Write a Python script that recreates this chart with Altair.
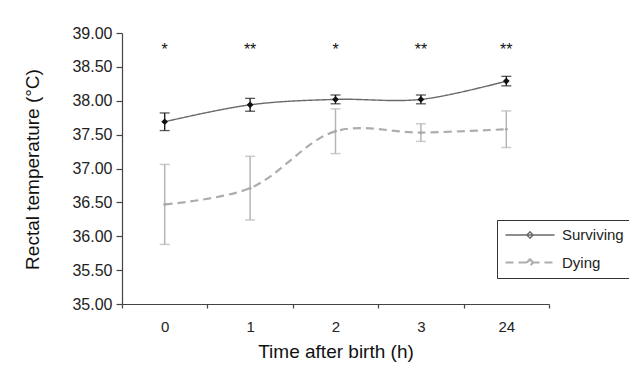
import altair as alt
import pandas as pd

times = ["0", "1", "2", "3", "24"]
surviving_mean = [37.69, 37.94, 38.02, 38.02, 38.29]
surviving_err = [0.13, 0.095, 0.065, 0.065, 0.07]
dying_mean = [36.47, 36.71, 37.55, 37.53, 37.58]
dying_err = [0.59, 0.47, 0.33, 0.13, 0.27]
significance = ["*", "**", "*", "**", "**"]
y_ticks = [35.0, 35.5, 36.0, 36.5, 37.0, 37.5, 38.0, 38.5, 39.0]
groups = ["Surviving", "Dying"]

rows = []
for g, means, errs in [("Surviving", surviving_mean, surviving_err),
                       ("Dying", dying_mean, dying_err)]:
    for t, m, e in zip(times, means, errs):
        rows.append({"time": t, "group": g, "mean": m, "lo": m - e, "hi": m + e})
df = pd.DataFrame(rows)
sig_df = pd.DataFrame({"time": times, "sig": significance})

FONT = "Liberation Sans"

x_enc = alt.X(
    "time:O", sort=times,
    scale=alt.Scale(type="band", paddingInner=0, paddingOuter=0),
    axis=alt.Axis(title="Time after birth (h)", labelAngle=0, tickBand="extent",
                  tickSize=4, labelPadding=11, labelFontSize=15,
                  titleFontSize=19, titleBaseline="alphabetic", titleY=53),
)

y_scale = alt.Scale(domain=[35, 39], nice=False, zero=False)
y_axis = alt.Axis(values=y_ticks, format=".2f", title="Rectal temperature (°C)",
                  grid=False, tickSize=6, labelPadding=4, labelFontSize=16,
                  labelOverlap=False,
                  titleFontSize=19, titleBaseline="alphabetic",
                  titleX=-84, titleY=136)


def yenc(field):
    return alt.Y(field, scale=y_scale, axis=y_axis)


# legend symbol: a long horizontal stroke with a small diamond in its middle
legend_path = "M-1,0H6M2.5,-0.45L2.95,0L2.5,0.45L2.05,0Z"
legend = alt.Legend(title=None, orient="none", legendX=375, legendY=187,
                    symbolType=legend_path, symbolSize=196, strokeColor="#333",
                    padding=7, labelFontSize=15, labelFont=FONT,
                    labelColor="#222", rowPadding=11, labelOffset=41)

base = alt.Chart(df)

lines = base.mark_line(interpolate="catmull-rom").encode(
    x=x_enc,
    y=yenc("mean:Q"),
    color=alt.Color("group:N", scale=alt.Scale(domain=groups, range=["#6a6a6a", "#adadad"]),
                    legend=legend),
    strokeDash=alt.StrokeDash("group:N", scale=alt.Scale(domain=groups, range=[[1, 0], [8, 5]]),
                              legend=legend),
    strokeWidth=alt.StrokeWidth("group:N", scale=alt.Scale(domain=groups, range=[1.4, 2.2]),
                                legend=legend),
)


def errbars(group, color, width):
    b = base.transform_filter(alt.datum.group == group)
    rule = b.mark_rule(color=color, strokeWidth=width).encode(
        x=x_enc, y=yenc("lo:Q"), y2="hi:Q")
    cap_lo = b.mark_tick(color=color, thickness=width, size=10).encode(
        x=x_enc, y=yenc("lo:Q"))
    cap_hi = b.mark_tick(color=color, thickness=width, size=10).encode(
        x=x_enc, y=yenc("hi:Q"))
    return rule + cap_lo + cap_hi


surv_pts = base.transform_filter(alt.datum.group == "Surviving").mark_point(
    shape="diamond", filled=True, color="#111", size=45, opacity=1
).encode(x=x_enc, y=yenc("mean:Q"))

dying_pts = base.transform_filter(alt.datum.group == "Dying").mark_point(
    shape="diamond", filled=True, color="#a8a8a8", size=14, opacity=1
).encode(x=x_enc, y=yenc("mean:Q"))

stars = alt.Chart(sig_df).mark_text(
    fontSize=16, baseline="alphabetic", color="#111", font=FONT
).encode(
    x=x_enc,
    y=alt.YDatum(38.68, type="quantitative", scale=y_scale, axis=y_axis),
    text="sig:N",
)

chart = alt.layer(
    lines,
    errbars("Dying", "#b5b5b5", 1.5),
    errbars("Surviving", "#111", 1.3),
    dying_pts,
    surv_pts,
    stars,
).properties(
    width=427, height=271,
    autosize=alt.AutoSizeParams(type="none"),
    padding={"left": 114, "top": 25, "right": 80, "bottom": 60},
).configure_view(strokeWidth=0).configure_axis(
    domainColor="#444", tickColor="#444", labelColor="#222", titleColor="#111",
    labelFont=FONT, titleFont=FONT, titleFontWeight="normal", domainWidth=1.2,
    tickWidth=1.2,
)

chart.save("out.html", embed_options={"renderer": "svg", "actions": False})
